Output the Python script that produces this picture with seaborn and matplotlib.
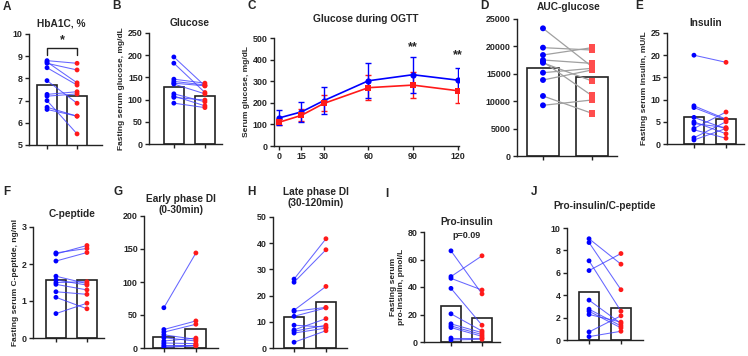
import numpy as np
import pandas as pd
import matplotlib
matplotlib.use("Agg")
import matplotlib.pyplot as plt
import seaborn as sns

# ---------------- data ----------------
groups = ["Before", "After"]

hba1c_before = [8.80, 8.74, 8.68, 8.48, 7.90, 7.28, 7.20, 7.00, 6.70, 6.60]
hba1c_after = [8.68, 7.80, 8.38, 7.70, 6.88, 7.40, 7.30, 5.50, 6.30, 6.30]
hba1c_means = [7.72, 7.22]

glu_before = [196, 182, 146, 141, 137, 135, 113, 108, 105, 92]
glu_after = [131, 116, 137, 133, 131, 113, 95, 86, 99, 82]
glu_means = [128, 108]

ogtt_time = [0, 15, 30, 60, 90, 120]
ogtt_before_mean = [130, 158, 210, 302, 330, 305]
ogtt_before_sd = [35, 48, 62, 82, 83, 57]
ogtt_after_mean = [110, 142, 197, 270, 282, 256]
ogtt_after_sd = [14, 28, 37, 58, 62, 56]

auc_before = [23300, 19770, 18430, 17520, 17210, 17000, 15200, 13870, 10950, 9250]
auc_after = [16300, 19340, 19770, 16900, 11000, 13690, 16000, 15700, 7790, 10220]
auc_means = [16000, 14470]

ins_before = [20.0, 8.6, 8.2, 6.0, 5.0, 4.6, 3.5, 3.2, 1.4, 0.9]
ins_after = [18.4, 5.6, 5.4, 3.4, 2.3, 3.7, 7.2, 1.3, 5.0, 3.5]
ins_means = [6.0, 5.6]

cpep_before = [2.30, 2.27, 2.08, 1.67, 1.57, 1.50, 1.45, 1.25, 1.10, 0.66]
cpep_after = [2.42, 2.50, 2.31, 1.47, 1.43, 1.52, 1.30, 1.18, 0.79, 0.94]
cpep_means = [1.57, 1.57]

edi_before = [61, 28, 24, 20, 15.6, 10.6, 7.6, 5, 2.5, 0.5]
edi_after = [144, 41, 36, 13, 10.6, 15, 6.6, 5, 3, 4]
edi_means = [16.7, 28.3]

ldi_before = [26.3, 25.1, 14.4, 14.0, 12.1, 8.7, 6.9, 6.4, 5.7, 2.2]
ldi_after = [41.7, 37.5, 23.5, 15.5, 15.3, 8.0, 11.2, 8.7, 7.6, 6.6]
ldi_means = [12.0, 17.6]

pro_before = [66.3, 47.6, 46.3, 39.0, 20.5, 13.2, 11.7, 10.5, 2.9, 1.5]
pro_after = [35.0, 62.7, 37.8, 12.2, 8.0, 6.8, 5.4, 4.1, 2.9, 2.0]
pro_means = [26.0, 17.7]

ratio_before = [9.04, 8.70, 7.07, 6.20, 3.56, 2.75, 2.57, 2.28, 0.72, 0.30]
ratio_after = [6.77, 4.49, 2.57, 7.72, 1.47, 1.26, 1.08, 1.60, 2.16, 0.78]
ratio_means = [4.31, 2.90]

# ---------------- style ----------------
sns.set_style("ticks")
plt.rcParams["font.family"] = ["Liberation Sans", "DejaVu Sans"]
plt.rcParams["font.weight"] = "bold"
plt.rcParams["axes.labelweight"] = "bold"
plt.rcParams["axes.titleweight"] = "bold"

W, H = 748, 356
fig = plt.figure(figsize=(W / 100, H / 100), dpi=100)

BLUE = "#0000FF"
RED = "#FF1A1A"
TICK_FS = 6.4
LAB_FS = 6.0
TITLE_FS = 7.3


def add_ax(L, R, T, B):
    return fig.add_axes([L / W, 1 - B / H, (R - L) / W, (B - T) / H])


def style(ax):
    sns.despine(ax=ax)
    for s in ["left", "bottom"]:
        ax.spines[s].set_linewidth(1.0)
        ax.spines[s].set_color("#222222")
    ax.tick_params(axis="both", length=3, width=1.0, color="#222222",
                   labelsize=TICK_FS, pad=1.5)
    for lab in ax.get_yticklabels() + ax.get_xticklabels():
        lab.set_fontweight("bold")


def paired(ax, before, after, means, ylim, yticks, xlim, ylabel=None,
           line_color="#4040ff", dsize=12, d_style=False):
    n = len(before)
    df = pd.DataFrame({
        "subject": list(range(n)) * 2,
        "pos": [0] * n + [1] * n,
        "value": list(before) + list(after),
        "group": ["Before"] * n + ["After"] * n,
    })
    mdf = pd.DataFrame({"group": groups, "value": means})
    sns.barplot(data=mdf, x="group", y="value", order=groups, ax=ax,
                color="white", edgecolor="#222222", linewidth=1.2,
                width=0.65, errorbar=None, zorder=1)
    sns.lineplot(data=df, x="pos", y="value", units="subject",
                 estimator=None, ax=ax, color=line_color,
                 lw=0.9 if d_style else 0.75,
                 alpha=1.0 if d_style else 0.8, legend=False, zorder=2)
    if d_style:
        sns.scatterplot(data=df[df.group == "Before"], x="pos", y="value",
                        color=BLUE, s=18, marker="o", edgecolor="none",
                        legend=False, ax=ax, zorder=3)
        sns.scatterplot(data=df[df.group == "After"], x="pos", y="value",
                        color="#FF4D4D", s=24, marker="s", edgecolor="none",
                        legend=False, ax=ax, zorder=3)
    else:
        sns.scatterplot(data=df, x="pos", y="value", hue="group",
                        palette={"Before": BLUE, "After": RED}, s=dsize,
                        edgecolor="none", legend=False, ax=ax, zorder=3)
    ax.set_xlim(*xlim)
    ax.set_ylim(*ylim)
    ax.set_yticks(yticks)
    ax.set_xticks([0, 1])
    ax.set_xticklabels(["", ""])
    ax.set_xlabel("")
    if ylabel:
        ax.set_ylabel(ylabel, fontsize=LAB_FS, labelpad=2)
    else:
        ax.set_ylabel("")
    style(ax)


def ftext(x, y, s, size=TITLE_FS, **kw):
    fig.text(x / W, 1 - y / H, s, fontsize=size, fontweight="bold",
             ha=kw.pop("ha", "center"), va=kw.pop("va", "center"), **kw)


# ---------------- top row ----------------
axA = add_ax(29, 102, 34, 145)
paired(axA, hba1c_before, hba1c_after, hba1c_means, (5, 10),
       range(5, 11), (-0.6, 1.83))
axA.plot([0, 0, 1, 1], [9.05, 9.35, 9.35, 9.05], color="#222222", lw=1.0)
axA.text(0.5, 9.45, "*", ha="center", va="bottom", fontsize=9,
         fontweight="bold")

axB = add_ax(149, 222, 33, 144)
paired(axB, glu_before, glu_after, glu_means, (0, 250),
       range(0, 251, 50), (-0.8, 1.55), "Fasting serum glucose, mg/dL")

axC = add_ax(274, 459, 38, 146)
cdf = pd.DataFrame({
    "time": ogtt_time * 2,
    "glucose": ogtt_before_mean + ogtt_after_mean,
    "group": ["Before"] * 6 + ["After"] * 6,
})
axC.errorbar(ogtt_time, ogtt_after_mean, yerr=ogtt_after_sd, fmt="none",
             ecolor=RED, elinewidth=1.0, capsize=2.5, capthick=1.0, zorder=2)
axC.errorbar(ogtt_time, ogtt_before_mean, yerr=ogtt_before_sd, fmt="none",
             ecolor=BLUE, elinewidth=1.0, capsize=2.5, capthick=1.0, zorder=2)
sns.lineplot(data=cdf, x="time", y="glucose", hue="group", style="group",
             palette={"Before": BLUE, "After": RED},
             markers={"Before": "o", "After": "s"}, dashes=False,
             markersize=4.5, markeredgewidth=0, lw=1.2, legend=False, ax=axC,
             zorder=3)
axC.set_xlim(-3.5, 121)
axC.set_ylim(0, 500)
axC.set_xticks(ogtt_time)
axC.set_yticks(range(0, 501, 100))
axC.set_xlabel("")
axC.set_ylabel("Serum glucose, mg/dL", fontsize=LAB_FS, labelpad=2)
axC.text(90, 432, "**", ha="center", va="bottom", fontsize=9, fontweight="bold")
axC.text(120, 392, "**", ha="center", va="bottom", fontsize=9, fontweight="bold")
style(axC)

axD = add_ax(517, 617, 19, 156)
paired(axD, auc_before, auc_after, auc_means, (0, 25000),
       range(0, 25001, 5000), (-0.53, 1.51), line_color="#A0A0A0",
       d_style=True)

axE = add_ax(667, 744, 33, 144)
paired(axE, ins_before, ins_after, ins_means, (0, 25),
       range(0, 26, 5), (-0.84, 1.56), "Fasting serum insulin, mU/L")

# ---------------- bottom row ----------------
axF = add_ax(33, 104, 227, 338)
paired(axF, cpep_before, cpep_after, cpep_means, (0, 3),
       range(0, 4), (-0.74, 1.55), "Fasting serum C-peptide, ng/ml")

axG = add_ax(144, 218, 216, 348)
paired(axG, edi_before, edi_after, edi_means, (0, 200),
       range(0, 201, 50), (-0.62, 1.69))

axH = add_ax(273, 347, 217, 348)
paired(axH, ldi_before, ldi_after, ldi_means, (0, 50),
       range(0, 51, 10), (-0.66, 1.66))

axI = add_ax(424, 500, 232, 342)
paired(axI, pro_before, pro_after, pro_means, (0, 80),
       range(0, 81, 20), (-0.87, 1.58),
       "Fasting serum\npro-insulin, pmol/L")

axJ = add_ax(567, 643, 228, 340)
paired(axJ, ratio_before, ratio_after, ratio_means, (0, 10),
       range(0, 11, 2), (-0.69, 1.69))

# ---------------- titles ----------------
ftext(61, 23, "HbA1C, %")
ftext(190, 23, "Glucose")
ftext(366, 19, "Glucose during OGTT")
ftext(569, 7, "AUC-glucose")
ftext(706, 23, "Insulin")
ftext(72, 214, "C-peptide")
ftext(181, 204.5, "Early phase DI\n(0-30min)", linespacing=1.1)
ftext(316, 197.5, "Late phase DI\n(30-120min)", linespacing=1.1)
ftext(467, 222, "Pro-insulin")
ftext(467, 236, "p=0.09", size=6.5)
ftext(605, 206, "Pro-insulin/C-peptide")

# ---------------- panel letters ----------------
LET = 8.5
for x, y, s in [(3, 7, "A"), (112, 6, "B"), (247, 6, "C"), (480, 6, "D"),
                (635, 6, "E"), (3, 192, "F"), (113, 192, "G"),
                (247, 192, "H"), (385, 194, "I"), (531, 192, "J")]:
    ftext(x, y, s, size=LET, ha="left")

fig.savefig("out.png", dpi=100)
